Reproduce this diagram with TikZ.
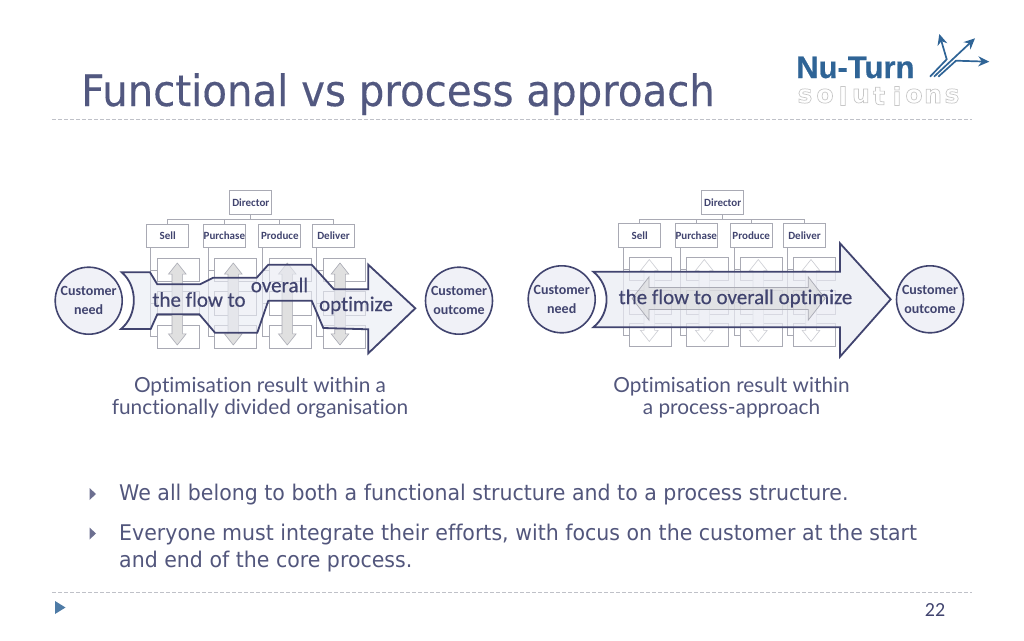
\documentclass[tikz,border=0pt]{standalone}
\usepackage{fontspec}
\usepackage{xcolor}
\usetikzlibrary{shapes.arrows,arrows.meta}
\setmainfont[Ligatures=CommonOff]{DejaVu Sans}
\newfontfamily\chartfont[Ligatures=CommonOff]{Carlito}
\newfontfamily\flowfont[Ligatures=CommonOff,FakeBold=0.4]{Carlito}
\newfontfamily\capfont[Ligatures=CommonOff]{Lato}
\newfontfamily\logofont[FakeBold=0.6]{Liberation Sans}
\newfontfamily\titlefont[Ligatures=CommonOff,FakeStretch=0.93,FakeBold=0.3]{DejaVu Sans}
\newfontfamily\linefont[Ligatures=CommonOff,FakeStretch=0.95]{DejaVu Sans}
\newcommand{\outlined}[1]{\special{pdf:code q 1 Tr 0.78 G 0.7 w}#1\special{pdf:code Q}}
\definecolor{inkblue}{HTML}{41446F}
\definecolor{titleblue}{HTML}{525880}
\definecolor{lineblue}{HTML}{52567C}
\definecolor{boxline}{HTML}{A9AAB4}
\definecolor{flowfill}{HTML}{E9EBF3}
\definecolor{logoblue}{HTML}{2F6496}
\definecolor{dashgrey}{HTML}{BFC1C8}
\tikzset{
  orgbox/.style={draw=boxline,line width=0.7pt,fill=white,minimum width=42pt,minimum height=23.4pt,inner sep=0pt,text=inkblue,font=\chartfont\bfseries\fontsize{11}{13}\selectfont},
  orgline/.style={draw=boxline,line width=0.7pt},
  updown/.style={shape=double arrow,double arrow head extend=3.5pt,double arrow tip angle=77,shape border rotate=90,minimum width=17pt,minimum height=82pt,inner sep=5pt,draw=boxline,fill=black!12,line width=0.6pt},
  faintarrow/.style={updown,draw=boxline!60,fill=white},
  flowshape/.style={draw=inkblue,line width=1.8pt,fill=flowfill,fill opacity=0.62,line join=miter},
  endpoint/.style={circle,draw=inkblue,line width=1.6pt,fill=flowfill!70,minimum size=67pt,inner sep=0pt,align=center,text=inkblue,font=\chartfont\bfseries\fontsize{14}{18.5}\selectfont},
  flowtext/.style={inner sep=0pt,text=inkblue,font=\flowfont\fontsize{21}{24}\selectfont},
  caption/.style={inner sep=0pt,align=center,text=lineblue,font=\capfont\fontsize{20.8}{22}\selectfont},
  bodytext/.style={anchor=base west,inner sep=0pt,text=lineblue,font=\linefont\fontsize{21.6}{24}\selectfont},
  bullet/.style={fill=lineblue!85},
  rule/.style={draw=dashgrey,line width=0.8pt,dash pattern=on 3.5pt off 2.5pt},
  logoletter/.style={inner sep=0pt,font=\bfseries\fontsize{25}{25}\selectfont},
  logoarrow/.style={draw=logoblue,line width=1.7pt,-{Stealth[length=11pt,width=10pt]}}
}
\begin{document}
\begin{tikzpicture}[x=1pt,y=-1pt]
  \useasboundingbox (0,0) rectangle (1024,640);
  % title
  \node[anchor=base west,inner sep=0pt,text=titleblue,font=\titlefont\fontsize{43.3}{48}\selectfont] (title) at (81,106) {Functional vs process approach};
  \coordinate (ruletopa) at (52,119.5);
  \coordinate (ruletopb) at (972,119.5);
  \draw[rule] (ruletopa) -- (ruletopb);
  % logo
  \node[anchor=base west,inner sep=0pt,text=logoblue,font=\logofont\bfseries\fontsize{31}{31}\selectfont] (logoname) at (796,78) {Nu-Turn};
  \node[logoletter] (logos) at (805,96) {\outlined{s}};
  \node[logoletter] (logoo) at (825,96) {\outlined{o}};
  \node[logoletter] (logol) at (843,96) {\outlined{l}};
  \node[logoletter] (logou) at (861,96) {\outlined{u}};
  \node[logoletter] (logot) at (879,96) {\outlined{t}};
  \node[logoletter] (logoi) at (897,96) {\outlined{i}};
  \node[logoletter] (logop) at (914,96) {\outlined{o}};
  \node[logoletter] (logon) at (933,96) {\outlined{n}};
  \node[logoletter] (logoq) at (952,96) {\outlined{s}};
  \coordinate (streaka) at (930,76.7);
  \coordinate (streakb) at (934,76.7);
  \coordinate (streakc) at (938.3,76.7);
  \coordinate (benda) at (946.7,59.3);
  \coordinate (bendc) at (956,60.7);
  \coordinate (tipa) at (939.3,34);
  \coordinate (tipb) at (975,38.3);
  \coordinate (tipc) at (989.3,61.7);
  \draw[logoarrow] (streaka) -- (benda) -- (tipa);
  \draw[logoarrow] (streakb) -- (tipb);
  \draw[logoarrow] (streakc) -- (bendc) -- (tipc);
  % left chart, top
  \node[orgbox] (ldirector) at (250.8,202.5) {Director};
  \node[orgbox] (lsell) at (167.7,236) {Sell};
  \node[orgbox] (lpurchase) at (224.4,236) {Purchase};
  \node[orgbox] (lproduce) at (279.8,236) {Produce};
  \node[orgbox] (ldeliver) at (333.5,236) {Deliver};
  \coordinate (lbus) at (0,219.7);
  \draw[orgline] (ldirector.south) -- (ldirector.south |- lbus);
  \draw[orgline] (lsell.north) -- (lsell.north |- lbus) -- (ldeliver.north |- lbus) -- (ldeliver.north);
  \draw[orgline] (lpurchase.north) -- (lpurchase.north |- lbus);
  \draw[orgline] (lproduce.north) -- (lproduce.north |- lbus);
  % left chart, small boxes
  \coordinate (ltrunka) at (150.3,247.7);
  \coordinate (ltrunkb) at (208,247.7);
  \coordinate (ltrunkc) at (262.3,247.7);
  \coordinate (ltrunkd) at (316.7,247.7);
  \node[orgbox] (la1) at (178.2,270) {};
  \node[orgbox] (la2) at (178.2,303.3) {};
  \node[orgbox] (la3) at (178.2,336.7) {};
  \node[orgbox] (lb1) at (235.5,270) {};
  \node[orgbox] (lb2) at (235.5,303.3) {};
  \node[orgbox] (lb3) at (235.5,336.7) {};
  \node[orgbox] (lc1) at (290.2,270) {};
  \node[orgbox] (lc2) at (290.2,303.3) {};
  \node[orgbox] (lc3) at (290.2,336.7) {};
  \node[orgbox] (ld1) at (344,270) {};
  \node[orgbox] (ld2) at (344,303.3) {};
  \node[orgbox] (ld3) at (344,336.7) {};
  \draw[orgline] (ltrunka) |- (la1.west) (ltrunka) |- (la2.west) (ltrunka) |- (la3.west);
  \draw[orgline] (ltrunkb) |- (lb1.west) (ltrunkb) |- (lb2.west) (ltrunkb) |- (lb3.west);
  \draw[orgline] (ltrunkc) |- (lc1.west) (ltrunkc) |- (lc2.west) (ltrunkc) |- (lc3.west);
  \draw[orgline] (ltrunkd) |- (ld1.west) (ltrunkd) |- (ld2.west) (ltrunkd) |- (ld3.west);
  % left chart, up and down arrows
  \node[updown] (lupa) at (177.3,304) {};
  \node[updown] (lupb) at (233.3,304) {};
  \node[updown] (lupc) at (287.3,304) {};
  \node[updown] (lupd) at (340,304) {};
  % left flow
  \draw[flowshape] (121.7,272.3) -- (150,272.3) -- (157.3,284.3) -- (200,284.3) -- (213.3,277.7) -- (256.7,277.7) -- (268.3,264.7) -- (311.7,264.7) -- (334,289.3) -- (368.3,289.3) -- (368.3,264.7) -- (415.3,308.3) -- (368.3,353.3) -- (368.3,329.3) -- (323.3,328) -- (311.7,300.7) -- (268.3,300.7) -- (257.3,332.7) -- (215,332.7) -- (199.3,314.3) -- (157.3,314.3) -- (150.7,329) -- (121,329) .. controls (138,315) and (138,286) .. cycle;
  \node[flowtext] (lflowa) at (199,299.5) {the flow to};
  \node[flowtext] (lflowb) at (279.5,285) {overall};
  \node[flowtext] (lflowc) at (356,305.5) {optimize};
  % left end points
  \node[endpoint] (lneed) at (88.7,300.7) {Customer\\need};
  \node[endpoint] (loutcome) at (459,300.7) {Customer\\outcome};
  % right chart, top
  \node[orgbox] (rdirector) at (722.7,202.5) {Director};
  \node[orgbox] (rsell) at (639.8,235.5) {Sell};
  \node[orgbox] (rpurchase) at (696.3,235.5) {Purchase};
  \node[orgbox] (rproduce) at (751.2,235.5) {Produce};
  \node[orgbox] (rdeliver) at (804.5,235.5) {Deliver};
  \coordinate (rbus) at (0,219.3);
  \draw[orgline] (rdirector.south) -- (rdirector.south |- rbus);
  \draw[orgline] (rsell.north) -- (rsell.north |- rbus) -- (rdeliver.north |- rbus) -- (rdeliver.north);
  \draw[orgline] (rpurchase.north) -- (rpurchase.north |- rbus);
  \draw[orgline] (rproduce.north) -- (rproduce.north |- rbus);
  % right chart, small boxes
  \coordinate (rtrunka) at (623.3,247.3);
  \coordinate (rtrunkb) at (680,247.3);
  \coordinate (rtrunkc) at (734,247.3);
  \coordinate (rtrunkd) at (787.3,247.3);
  \node[orgbox] (ra1) at (650.3,269) {};
  \node[orgbox] (ra2) at (650.3,302.3) {};
  \node[orgbox] (ra3) at (650.3,335) {};
  \node[orgbox] (rb1) at (707.3,269) {};
  \node[orgbox] (rb2) at (707.3,302.3) {};
  \node[orgbox] (rb3) at (707.3,335) {};
  \node[orgbox] (rc1) at (761.3,269) {};
  \node[orgbox] (rc2) at (761.3,302.3) {};
  \node[orgbox] (rc3) at (761.3,335) {};
  \node[orgbox] (rd1) at (814.7,269) {};
  \node[orgbox] (rd2) at (814.7,302.3) {};
  \node[orgbox] (rd3) at (814.7,335) {};
  \draw[orgline] (rtrunka) |- (ra1.west) (rtrunka) |- (ra2.west) (rtrunka) |- (ra3.west);
  \draw[orgline] (rtrunkb) |- (rb1.west) (rtrunkb) |- (rb2.west) (rtrunkb) |- (rb3.west);
  \draw[orgline] (rtrunkc) |- (rc1.west) (rtrunkc) |- (rc2.west) (rtrunkc) |- (rc3.west);
  \draw[orgline] (rtrunkd) |- (rd1.west) (rtrunkd) |- (rd2.west) (rtrunkd) |- (rd3.west);
  % right chart, up and down arrows
  \node[faintarrow] (rupa) at (649.3,300.5) {};
  \node[faintarrow] (rupb) at (704.3,300.5) {};
  \node[faintarrow] (rupc) at (758.3,300.5) {};
  \node[faintarrow] (rupd) at (811,300.5) {};
  % right flow
  \draw[flowshape,fill opacity=0.72] (593.3,271.7) -- (840,271.7) -- (840,243.3) -- (890.7,299.3) -- (840,356.7) -- (840,327.3) -- (593.3,327.3) .. controls (611,313) and (611,286) .. cycle;
  \node[shape=double arrow,double arrow head extend=10.7pt,double arrow tip angle=104,minimum width=42.7pt,minimum height=193pt,inner sep=10.6pt,draw=boxline,fill=black!18,fill opacity=0.45,line width=0.7pt] (racross) at (728.6,298.5) {};
  \node[flowtext] (rflow) at (735.5,298.5) {the flow to overall optimize};
  % right end points
  \node[endpoint] (rneed) at (561.7,299.3) {Customer\\need};
  \node[endpoint] (routcome) at (930,299.3) {Customer\\outcome};
  % captions
  \node[caption] (lcaption) at (260,398) {Optimisation result within a\\functionally divided organisation};
  \node[caption] (rcaption) at (731.5,398) {Optimisation result within\\a process-approach};
  % bullet points
  \fill[bullet] (89.5,488) -- (96,494) -- (89.5,500) -- cycle;
  \fill[bullet] (89.5,527.5) -- (96,533.5) -- (89.5,539.5) -- cycle;
  \node[bodytext] (linea) at (119,500) {We all belong to both a functional structure and to a process structure.};
  \node[bodytext] (lineb) at (119,540) {Everyone must integrate their efforts, with focus on the customer at the start};
  \node[bodytext] (linec) at (119,567) {and end of the core process.};
  % footer
  \coordinate (rulebota) at (52,592.5);
  \coordinate (rulebotb) at (972,592.5);
  \draw[rule] (rulebota) -- (rulebotb);
  \fill[fill=logoblue!85] (55,601) -- (65.5,607.5) -- (55,614) -- cycle;
  \node[inner sep=0pt,text=inkblue,font=\chartfont\fontsize{20}{22}\selectfont] (pagenum) at (935,610) {22};
\end{tikzpicture}
\end{document}
